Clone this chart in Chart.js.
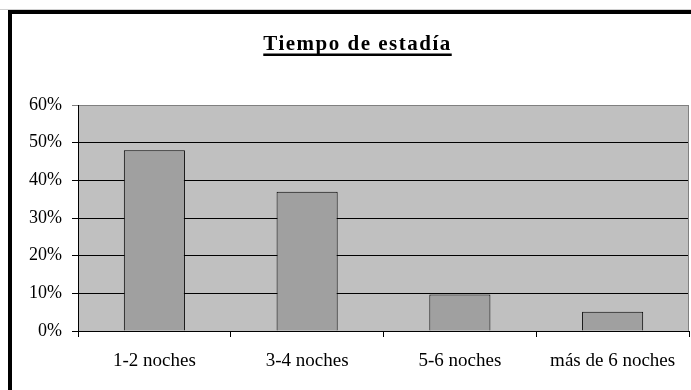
<!DOCTYPE html>
<html>
<head>
<meta charset="utf-8">
<script src="https://cdn.jsdelivr.net/npm/chart.js@4/dist/chart.umd.min.js"></script>
<style>
  html, body { margin: 0; padding: 0; background: #fff; overflow: hidden; }
  #wrap { position: relative; width: 691px; height: 390px; }
  #frame {
    position: absolute; left: 8px; top: 10px; width: 800px; height: 500px;
    border: 4px solid #000; pointer-events: none;
  }
  #topline { position: absolute; left: 0; top: 9px; width: 691px; height: 1px; background: #d0d0d0; }
</style>
</head>
<body>
<div id="wrap">
  <canvas id="chartEstadia" width="691" height="390"></canvas>
  <div id="topline"></div>
  <div id="frame"></div>
</div>
<script>
/*-------------------
    TIEMPO DE ESTADIA
--------------------*/

const titulo = 'Tiempo de estadía';
const categorias = ['1-2 noches', '3-4 noches', '5-6 noches', 'más de 6 noches'];
const porcentajes = [48, 37, 9.7, 5.1];
const ticksY = [0, 10, 20, 30, 40, 50, 60];

const serif = "'Liberation Serif', 'Times New Roman', serif";

// fondo gris del area de trazado + borde derecho
const fondoPlot = {
    id: 'fondoPlot',
    beforeDraw(chart) {
        const {ctx, chartArea: a} = chart;
        ctx.save();
        ctx.fillStyle = '#c0c0c0';
        ctx.fillRect(a.left, a.top, a.right - a.left, a.bottom - a.top);
        ctx.restore();
    },
    afterDatasetsDraw(chart) {
        const {ctx, chartArea: a} = chart;
        ctx.save();
        ctx.strokeStyle = '#808080';
        ctx.lineWidth = 1;
        ctx.beginPath();
        ctx.moveTo(a.right - 0.5, a.top);
        ctx.lineTo(a.right - 0.5, a.bottom);
        ctx.stroke();
        ctx.restore();
    }
};

// titulo en negrita subrayado
const tituloSubrayado = {
    id: 'tituloSubrayado',
    afterDraw(chart) {
        const ctx = chart.ctx;
        const cx = 357.5;
        ctx.save();
        ctx.font = 'bold 21px ' + serif;
        if ('letterSpacing' in ctx) ctx.letterSpacing = '1.5px';
        ctx.fillStyle = '#000';
        ctx.textAlign = 'center';
        ctx.textBaseline = 'alphabetic';
        ctx.fillText(titulo, cx, 50);
        const w = ctx.measureText(titulo).width;
        ctx.fillRect(cx - w / 2, 53.5, w, 2.5);
        ctx.restore();
    }
};

const canvas = document.getElementById('chartEstadia');

new Chart(canvas, {
    type: 'bar',
    data: {
        labels: categorias,
        datasets: [{
            data: porcentajes,
            backgroundColor: '#a0a0a0',
            borderColor: '#000',
            borderWidth: 1,
            barPercentage: 0.4,
            categoryPercentage: 1
        }]
    },
    options: {
        responsive: false,
        animation: false,
        devicePixelRatio: 1,
        layout: { padding: { top: 105, right: 2, left: 0, bottom: 0 } },
        plugins: {
            legend: { display: false },
            tooltip: { enabled: false },
            title: { display: false }
        },
        scales: {
            x: {
                offset: true,
                grid: { offset: true, drawOnChartArea: false, drawTicks: true, tickLength: 6, color: '#000' },
                border: { color: '#000', width: 1 },
                ticks: { color: '#000', font: { family: serif, size: 19 }, padding: 13, maxRotation: 0 },
                afterFit: s => { s.height = 59; }
            },
            y: {
                min: 0,
                max: 60,
                afterBuildTicks: s => { s.ticks = ticksY.map(v => ({value: v})); },
                grid: {
                    color: c => c.tick && c.tick.value === 60 ? '#808080' : '#000',
                    tickLength: 6
                },
                border: { color: '#000', width: 1 },
                ticks: { color: '#000', font: { family: serif, size: 18 }, padding: 10, callback: v => v + '%' },
                afterFit: s => { s.width = 78; }
            }
        }
    },
    plugins: [fondoPlot, tituloSubrayado]
});
</script>
</body>
</html>
